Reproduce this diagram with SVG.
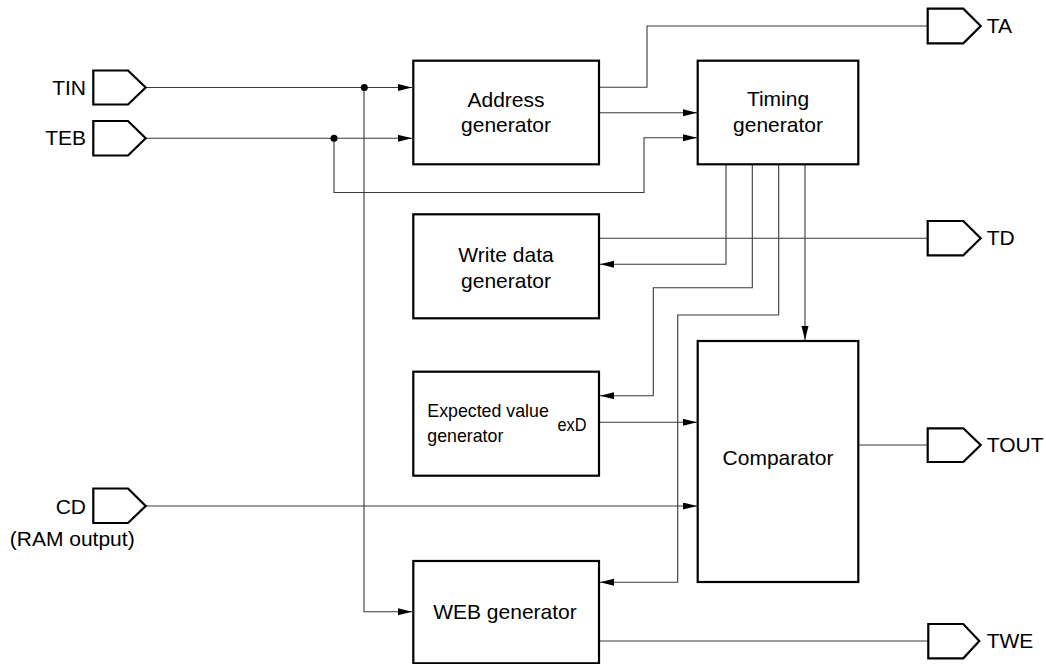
<svg xmlns="http://www.w3.org/2000/svg" width="1046" height="664" viewBox="0 0 1046 664">
<style>
.box{fill:#fff;stroke:#000;stroke-width:2.2}
.port{fill:#fff;stroke:#000;stroke-width:2.2;stroke-linejoin:miter}
.ln{fill:none;stroke:#3a3a3a;stroke-width:1.1}
.arr{marker-end:url(#ah)}
text{font-family:"Liberation Sans",Arial,sans-serif;font-size:21px;fill:#000}
.c{text-anchor:middle}
.e{text-anchor:end}
.sm{font-size:19px}
</style>
<defs>
<marker id="ah" markerUnits="userSpaceOnUse" markerWidth="14" markerHeight="8" refX="14" refY="3.5" orient="auto">
<path d="M0,0 L14,3.5 L0,7 z" fill="#000"/>
</marker>
</defs>
<rect width="1046" height="664" fill="#fff"/>
<g id="connectors">
<path class="ln arr" d="M146,87.5 H412"/>
<path class="ln arr" d="M364,87.5 V611.7 H412"/>
<path class="ln arr" d="M146,138.3 H412"/>
<path class="ln arr" d="M334,138.3 V192.5 H644 V137.7 H697"/>
<path class="ln" d="M599,87.3 H647 V26 H928"/>
<path class="ln arr" d="M599,112.7 H697"/>
<path class="ln arr" d="M726,164 V264.3 H600"/>
<path class="ln arr" d="M752.3,164 V287.7 H653.3 V395.7 H600"/>
<path class="ln arr" d="M778.7,164 V315 H677.7 V582.3 H600"/>
<path class="ln arr" d="M805,164 V340"/>
<path class="ln" d="M599,238.3 H928"/>
<path class="ln arr" d="M599,422.3 H697"/>
<path class="ln arr" d="M146,506 H697"/>
<path class="ln" d="M858,445 H928"/>
<path class="ln" d="M599,641 H928"/>
<circle cx="364.3" cy="87.5" r="3.5" fill="#000"/>
<circle cx="334" cy="138.3" r="3.5" fill="#000"/>
</g>
<g id="TIN">
<path class="port" d="M93.3,70.5 H128 L145.7,87.5 L128,104.5 H93.3 Z"/>
<text class="e" x="86" y="94.5">TIN</text>
</g>
<g id="TEB">
<path class="port" d="M93.3,121 H128 L145.7,138.3 L128,155.5 H93.3 Z"/>
<text class="e" x="86" y="145">TEB</text>
</g>
<g id="CD">
<path class="port" d="M93.3,488.5 H128 L145.7,506 L128,523 H93.3 Z"/>
<text class="e" x="86" y="513.5">CD</text>
<text class="c" x="72.2" y="546">(RAM output)</text>
</g>
<g id="address-generator">
<rect class="box" x="413.3" y="60.7" width="185.7" height="103.6"/>
<text class="c" x="506" y="107">Address</text>
<text class="c" x="506" y="131.7">generator</text>
</g>
<g id="timing-generator">
<rect class="box" x="697.7" y="60.7" width="160.6" height="103.6"/>
<text class="c" x="778" y="106">Timing</text>
<text class="c" x="778" y="131.7">generator</text>
</g>
<g id="write-data-generator">
<rect class="box" x="413.3" y="214.3" width="185.7" height="104"/>
<text class="c" x="506" y="261.7">Write data</text>
<text class="c" x="506" y="287.7">generator</text>
</g>
<g id="expected-value-generator">
<rect class="box" x="413.3" y="371.7" width="185.7" height="104"/>
<text class="sm" x="427.3" y="417.3" textLength="121.5" lengthAdjust="spacingAndGlyphs">Expected value</text>
<text class="sm" x="427.3" y="441.7" textLength="76" lengthAdjust="spacingAndGlyphs">generator</text>
<text class="sm" x="557.5" y="430.7" textLength="29" lengthAdjust="spacingAndGlyphs">exD</text>
</g>
<g id="comparator">
<rect class="box" x="697.7" y="341" width="160.6" height="241"/>
<text class="c" x="778" y="465">Comparator</text>
</g>
<g id="web-generator">
<rect class="box" x="413.3" y="561" width="185.7" height="102.3"/>
<text class="c" x="505" y="619">WEB generator</text>
</g>
<g id="TA">
<path class="port" d="M927.7,8.7 H963.3 L980.7,26 L963.3,43.3 H927.7 Z"/>
<text x="986.7" y="33.3">TA</text>
</g>
<g id="TD">
<path class="port" d="M927.7,221 H963.3 L980.7,238.3 L963.3,255.3 H927.7 Z"/>
<text x="986.7" y="245">TD</text>
</g>
<g id="TOUT">
<path class="port" d="M927.7,428.3 H963.3 L980.7,445 L963.3,462 H927.7 Z"/>
<text x="986.7" y="452">TOUT</text>
</g>
<g id="TWE">
<path class="port" d="M928.3,624 H963.3 L979.3,641 L963.3,658.3 H928.3 Z"/>
<text x="986.7" y="648">TWE</text>
</g>
</svg>
